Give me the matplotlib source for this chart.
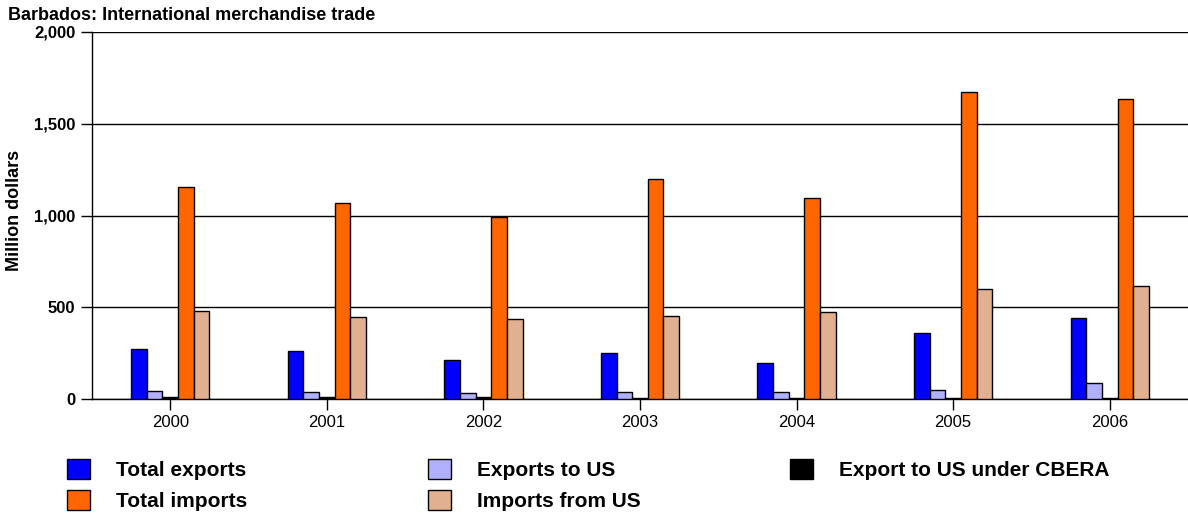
import numpy as np
import matplotlib
matplotlib.use("Agg")
import matplotlib.pyplot as plt

plt.rcParams['font.family'] = ['Liberation Sans', 'DejaVu Sans']

# data (million dollars)
years = ['2000', '2001', '2002', '2003', '2004', '2005', '2006']
total_exports = [271, 260, 213, 251, 195, 361, 440]
exports_us = [42, 37, 34, 37, 37, 47, 87]
exports_cbera = [9, 12, 12, 5, 3, 3, 3]
total_imports = [1157, 1068, 994, 1197, 1094, 1675, 1633]
imports_us = [478, 447, 438, 452, 476, 598, 614]

series = [
    ('Total exports', total_exports, '#0000ff'),
    ('Exports to US', exports_us, '#b0b0ff'),
    ('Export to US under CBERA', exports_cbera, '#000000'),
    ('Total imports', total_imports, '#ff6600'),
    ('Imports from US', imports_us, '#e0b090'),
]

fig = plt.figure(figsize=(11.88, 5.17), dpi=100)
ax = fig.add_axes([92/1188, 1-399/517, 1-92/1188, 367/517])

x = np.arange(len(years))
w = 0.1
bars = {}
for i, (name, vals, col) in enumerate(series):
    b = ax.bar(x + (i-2)*w, vals, w, color=col, edgecolor='black', linewidth=1, zorder=3, label=name)
    bars[name] = b

ax.set_xlim(-0.5, 6.5)
ax.set_ylim(0, 2000)
ax.set_yticks([0, 500, 1000, 1500, 2000])
ax.set_yticklabels(['0', '500', '1,000', '1,500', '2,000'], fontweight='bold', fontsize=12)
ax.set_xticks(x)
ax.set_xticklabels(years, fontsize=12)
ax.yaxis.grid(True, color='black', linewidth=1, zorder=0)
ax.tick_params(axis='both', direction='out', length=8, width=1, color='black')
ax.tick_params(axis='y', pad=4)
for s in ['top', 'right']:
    ax.spines[s].set_visible(False)
ax.spines['left'].set_linewidth(1)
ax.spines['bottom'].set_linewidth(1)
ax.set_ylabel('Million dollars', fontsize=13, fontweight='bold')
ax.yaxis.set_label_coords(-69/1096, 0.515)

fig.text(8/1188, 1-15/517, 'Barbados: International merchandise trade', fontsize=13,
         fontweight='bold', va='center', ha='left')

cols = [(['Total exports', 'Total imports'], 48),
        (['Exports to US', 'Imports from US'], 409),
        (['Export to US under CBERA'], 771)]
for names, px in cols:
    leg = fig.legend([bars[n] for n in names], names, loc='upper left',
                     bbox_to_anchor=(px/1188, 1-440/517), frameon=False,
                     prop={'weight': 'bold', 'size': 15}, handlelength=1.1,
                     handleheight=1.15, handletextpad=1.25, labelspacing=0.45)

fig.savefig('out.png', dpi=100)
